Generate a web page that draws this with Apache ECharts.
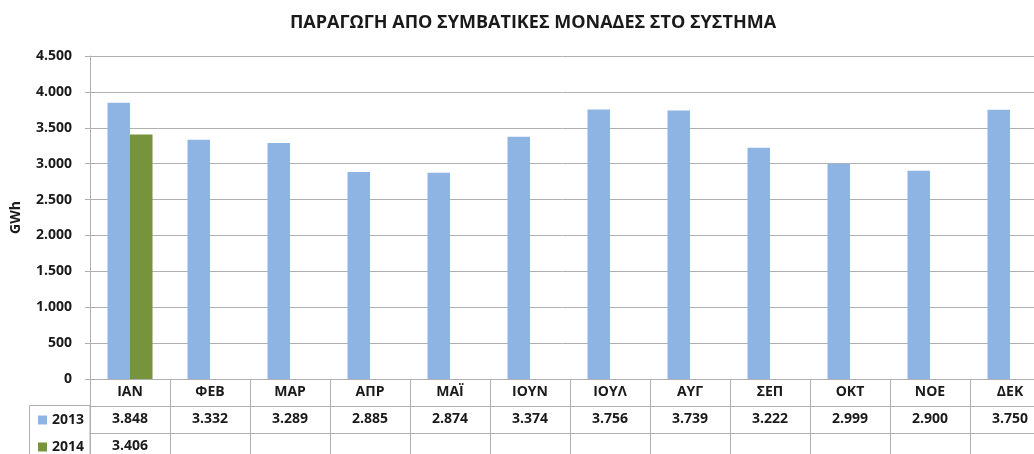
<!DOCTYPE html>
<html>
<head>
<meta charset="utf-8">
<script src="https://cdn.jsdelivr.net/npm/echarts@6/dist/echarts.min.js"></script>
<style>html,body{margin:0;padding:0;background:#fff;}#c{width:1034px;height:454px;}</style>
</head>
<body>
<div id="c"></div>
<script>
var title = 'ΠΑΡΑΓΩΓΗ ΑΠΟ ΣΥΜΒΑΤΙΚΕΣ ΜΟΝΑΔΕΣ ΣΤΟ ΣΥΣΤΗΜΑ';
var months = ['ΙΑΝ','ΦΕΒ','ΜΑΡ','ΑΠΡ','ΜΑΪ','ΙΟΥΝ','ΙΟΥΛ','ΑΥΓ','ΣΕΠ','ΟΚΤ','ΝΟΕ','ΔΕΚ'];
var values2013 = [3848,3332,3289,2885,2874,3374,3756,3739,3222,2999,2900,3750];
var values2014 = [3406,null,null,null,null,null,null,null,null,null,null,null];
var yTicks = [0,500,1000,1500,2000,2500,3000,3500,4000,4500];

function fmt(v){
  if (v === null || v === undefined) return '';
  var s = String(Math.round(v));
  return s.replace(/\B(?=(\d{3})+(?!\d))/g, '.');
}
var FONT = '"Open Sans", "Noto Sans", sans-serif';
var chart = echarts.init(document.getElementById('c'), null, {renderer:'canvas'});
var gridC = '#B0B0B0';
var legText = {fontFamily:FONT,fontSize:14,fontWeight:'bold',color:'#1a1a1a',lineHeight:18};
chart.setOption({
  animation:false,
  backgroundColor:'#fff',
  title:{text:title,left:528,textAlign:'center',top:9,
    textStyle:{fontFamily:FONT,fontSize:18,fontWeight:'bold',color:'#1a1a1a'}},
  legend:[
    {left:33,top:406,itemWidth:9,itemHeight:9,icon:'rect',itemGap:5,
      textStyle:legText,data:['2013']},
    {left:33,top:433,itemWidth:9,itemHeight:9,icon:'rect',itemGap:5,
      textStyle:legText,data:['2014']}
  ],
  grid:{left:90,top:56,width:960,height:323,containLabel:false,outerBoundsMode:'none'},
  xAxis:[{
    type:'category',data:months,
    axisLine:{show:true,lineStyle:{color:gridC,width:1}},
    axisTick:{show:true,length:80,alignWithLabel:false,lineStyle:{color:gridC}},
    axisLabel:{interval:0,margin:0,
      formatter:function(v,i){
        return '{m|'+v+'}\n{v|'+fmt(values2013[i])+'}\n{v|'+fmt(values2014[i])+'}';
      },
      rich:{
        m:{fontFamily:FONT,fontSize:14,fontWeight:'bold',color:'#1a1a1a',lineHeight:27,height:27},
        v:{fontFamily:FONT,fontSize:14,fontWeight:'bold',color:'#1a1a1a',lineHeight:27,height:27}
      }}
  },{
    type:'category',data:months,position:'bottom',offset:27,
    axisLine:{show:true,lineStyle:{color:gridC}},axisTick:{show:false},axisLabel:{show:false}
  },{
    type:'category',data:months,position:'bottom',offset:54,
    axisLine:{show:true,lineStyle:{color:gridC}},axisTick:{show:false},axisLabel:{show:false}
  }],
  yAxis:{
    type:'value',min:0,max:4500,interval:500,
    name:'GWh',nameLocation:'middle',nameGap:67,nameRotate:90,
    nameTextStyle:{fontFamily:FONT,fontSize:14,fontWeight:'bold',color:'#1a1a1a'},
    axisLine:{show:true,lineStyle:{color:gridC}},
    axisTick:{show:true,length:5,lineStyle:{color:gridC}},
    splitLine:{show:true,lineStyle:{color:gridC}},
    axisLabel:{margin:18,fontFamily:FONT,fontSize:14,fontWeight:'bold',color:'#1a1a1a',
      formatter:function(v){return fmt(v);}}
  },
  graphic:[{type:'rect',shape:{x:29.5,y:405.5,width:60.5,height:80},
    style:{fill:null,stroke:gridC,lineWidth:1},silent:true}],
  series:[
    {name:'2013',type:'bar',data:values2013,barGap:'0%',barCategoryGap:'43.75%',
      itemStyle:{color:'#8EB4E3'}},
    {name:'2014',type:'bar',data:values2014,barGap:'0%',barCategoryGap:'43.75%',
      itemStyle:{color:'#77933C'}}
  ]
});
</script>
</body>
</html>
